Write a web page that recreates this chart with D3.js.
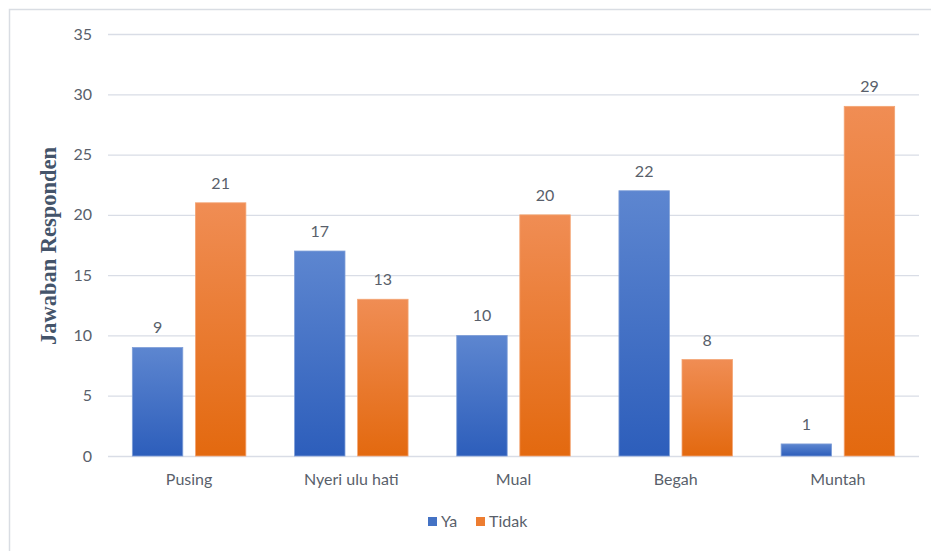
<!DOCTYPE html>
<html><head><meta charset="utf-8">
<script src="https://cdn.jsdelivr.net/npm/d3@7"></script>
<style>body{margin:0;background:#fff}svg{display:block}</style>
</head><body>
<script>
const categories = ["Pusing", "Nyeri ulu hati", "Mual", "Begah", "Muntah"];
const seriesNames = ["Ya", "Tidak"];
const ya = [9, 17, 10, 22, 1];
const tidak = [21, 13, 20, 8, 29];
const yTicks = [0, 5, 10, 15, 20, 25, 30, 35];
const yTitle = "Jawaban Responden";

(function () {
const W = 931, H = 551;
const svg = d3.select("body").append("svg").attr("width", W).attr("height", H);
const defs = svg.append("defs");
const grads = [
  {id: "gYa", top: "#5d86d0", bot: "#2d5ebb"},
  {id: "gTidak", top: "#f08d54", bot: "#e3690f"}
];
grads.forEach(g => {
  const lgr = defs.append("linearGradient").attr("id", g.id).attr("x1", 0).attr("y1", 0).attr("x2", 0).attr("y2", 1);
  lgr.append("stop").attr("offset", "0%").attr("stop-color", g.top);
  lgr.append("stop").attr("offset", "100%").attr("stop-color", g.bot);
});

// chart border
svg.append("rect").attr("x", 9.5).attr("y", 9.5).attr("width", 940).attr("height", 560)
  .attr("fill", "none").attr("stroke", "#d9dde3").attr("stroke-width", 1.5);

const pL = 108, pR = 919, pT = 34, pB = 456;
const y = d3.scaleLinear().domain([0, 35]).range([pB, pT]);
const x0 = d3.scaleBand().domain(categories).range([pL, pR]).paddingInner(0.3).paddingOuter(0.15);
const x1 = d3.scaleBand().domain(seriesNames).range([0, x0.bandwidth()]).paddingInner(0.2);

const font = "Lato, 'Open Sans', sans-serif";
const txtColor = "#595f6b";
const fs = 16;

// gridlines
const yAxis = d3.axisLeft(y).tickValues(yTicks).tickSize(-(pR - pL)).tickPadding(16);
const ga = svg.append("g").attr("transform", `translate(${pL},0)`).call(yAxis);
ga.select(".domain").remove();
ga.selectAll(".tick line").attr("stroke", "#d9dde6").attr("stroke-width", 1.3);
ga.selectAll(".tick text").attr("font-family", font).attr("font-size", fs).attr("fill", txtColor);

// bars
const data = categories.map((c, i) => ({cat: c, vals: [{s: "Ya", v: ya[i]}, {s: "Tidak", v: tidak[i]}]}));
const groups = svg.append("g").selectAll("g").data(data).join("g")
  .attr("transform", d => `translate(${x0(d.cat)},0)`);
groups.selectAll("rect").data(d => d.vals).join("rect")
  .attr("x", d => x1(d.s)).attr("width", x1.bandwidth())
  .attr("y", d => y(d.v)).attr("height", d => y(0) - y(d.v))
  .attr("fill", d => d.s === "Ya" ? "url(#gYa)" : "url(#gTidak)")
  .attr("stroke", d => d.s === "Ya" ? "#7f9fd8" : "#f3a574").attr("stroke-width", 0.8);
groups.selectAll("text").data(d => d.vals).join("text")
  .attr("x", d => x1(d.s) + x1.bandwidth() / 2).attr("y", d => y(d.v) - 14)
  .attr("text-anchor", "middle").attr("font-family", font).attr("font-size", fs).attr("fill", txtColor)
  .text(d => d.v);

// category labels
const xAxis = d3.axisBottom(x0).tickSize(0).tickPadding(18);
const gx = svg.append("g").attr("transform", `translate(0,${pB})`).call(xAxis);
gx.select(".domain").remove();
gx.selectAll(".tick text").attr("font-family", font).attr("font-size", fs).attr("fill", txtColor);

// y title
svg.append("text").attr("transform", `translate(56,246) rotate(-90)`)
  .attr("text-anchor", "middle").attr("font-family", "'Liberation Serif', serif").attr("font-weight", "bold")
  .attr("font-size", 22.5).attr("fill", "#44546a").text(yTitle);

// legend
const legX = [428, 476];
const lg = svg.append("g");
seriesNames.forEach((s, i) => {
  lg.append("rect").attr("x", legX[i]).attr("y", 517).attr("width", 9).attr("height", 9)
    .attr("fill", i === 0 ? "#4472c4" : "#ed7d31");
  lg.append("text").attr("x", legX[i] + 13).attr("y", 527).attr("font-family", font)
    .attr("font-size", fs).attr("fill", txtColor).text(s);
});
})();
</script>
</body></html>
